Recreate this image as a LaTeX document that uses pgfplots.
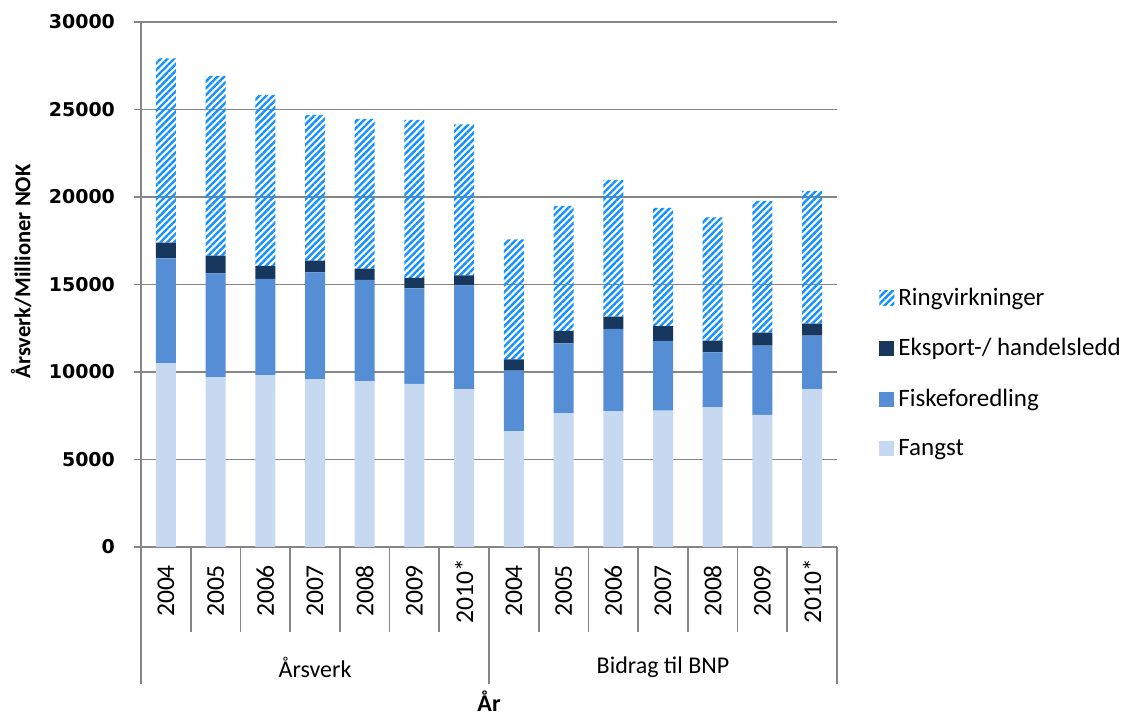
\documentclass[border=0pt]{standalone}
\usepackage{fontspec}
\setmainfont{Carlito}
\newfontfamily\tickfont{DejaVu Sans}
\usepackage{pgfplots}
\pgfplotsset{compat=1.18}
\usepackage{pgfplotstable}
\usetikzlibrary{patterns.meta}
\definecolor{cFangst}{RGB}{198,217,241}
\definecolor{cFiske}{RGB}{85,142,213}
\definecolor{cEks}{RGB}{23,55,94}
\definecolor{cRing}{RGB}{20,145,255}
\definecolor{axisgray}{RGB}{134,134,134}
\pgfplotstableread{
x F Fi E R
0 10495 6000 895 10535
1 9695 5943 1009 10267
2 9828 5486 743 9771
3 9581 6114 665 8326
4 9485 5772 648 8552
5 9314 5467 590 9029
6 9028 5924 572 8628
7 6628 3448 648 6856
8 7638 4000 705 7143
9 7771 4686 705 7809
10 7790 3981 857 6743
11 7981 3143 666 7048
12 7543 3962 743 7523
13 9028 3048 686 7581
}\datatable
\newcommand\yl[2]{\node[rotate=90,font=\fontsize{12.8}{14}\selectfont] at ([yshift=-22pt]axis cs:#1,0) {#2};}
\begin{document}
\begin{tikzpicture}
\useasboundingbox (-70.5pt,-84pt) rectangle (499pt,273.5pt);
\begin{axis}[
  at={(0,0)}, anchor=south west,
  scale only axis, width=348pt, height=262.5pt,
  ybar stacked, bar width=10pt,
  xmin=-0.5, xmax=13.5, ymin=0, ymax=30000,
  ytick={0,5000,...,30000}, xtick=\empty,
  axis x line*=bottom, axis y line*=left,
  axis line style={draw=axisgray, line width=0.8pt},
  ymajorgrids, grid style={draw=axisgray, line width=0.8pt},
  major tick length=3.5pt, tick align=outside,
  tick style={draw=axisgray, line width=0.8pt},
  scaled y ticks=false,
  /pgf/number format/1000 sep={},
  /pgf/number format/assume math mode=true,
  yticklabel style={font=\tickfont\bfseries\fontsize{9.5}{11}\selectfont, xshift=-6pt},
  clip=false,
  ylabel={Årsverk/Millioner NOK},
  every axis y label/.style={at={(axis description cs:-0.172,0.525)}, rotate=90, anchor=center, font=\bfseries\fontsize{11.3}{13}\selectfont},
  xlabel={År},
  every axis x label/.style={at={(axis description cs:0.5,-0.314)}, anchor=base, font=\bfseries\fontsize{12}{14}\selectfont},
  reverse legend,
  legend style={at={(1,0.331)}, anchor=west, xshift=18pt, draw=none, fill=none,
    font=\fontsize{12.5}{14}\selectfont, row sep=11pt,
    /tikz/every even column/.append style={column sep=3pt}},
  legend cell align=left,
  legend image code/.code={\path[#1, draw=none] (0pt,-3.75pt) rectangle (7.5pt,3.75pt);},
]
\addplot[fill=cFangst, draw=none] table[x=x,y=F]{\datatable};
\addplot[fill=cFiske, draw=none] table[x=x,y=Fi]{\datatable};
\addplot[fill=cEks, draw=none] table[x=x,y=E]{\datatable};
\addplot[fill=white, draw=none, pattern={Lines[angle=45,distance=2.4pt,line width=1.2pt]}, pattern color=cRing] table[x=x,y=R]{\datatable};
\legend{Fangst,Fiskeforedling,Eksport-/ handelsledd,Ringvirkninger}
\pgfplotsinvokeforeach{0.5,1.5,2.5,3.5,4.5,5.5,7.5,8.5,9.5,10.5,11.5,12.5}{
  \draw[axisgray, line width=0.8pt] (axis cs:#1,0) -- ([yshift=-42.5pt]axis cs:#1,0);
}
\pgfplotsinvokeforeach{-0.5,6.5,13.5}{
  \draw[axisgray, line width=0.8pt] (axis cs:#1,0) -- ([yshift=-68.5pt]axis cs:#1,0);
}
\yl{0}{2004}\yl{1}{2005}\yl{2}{2006}\yl{3}{2007}\yl{4}{2008}\yl{5}{2009}\yl{6}{2010*}
\yl{7}{2004}\yl{8}{2005}\yl{9}{2006}\yl{10}{2007}\yl{11}{2008}\yl{12}{2009}\yl{13}{2010*}
\node[font=\fontsize{12}{14}\selectfont] at ([yshift=-60pt]axis cs:3,0) {Årsverk};
\node[font=\fontsize{12}{14}\selectfont] at ([yshift=-60pt]axis cs:10,0) {Bidrag til BNP};
\end{axis}
\end{tikzpicture}
\end{document}
